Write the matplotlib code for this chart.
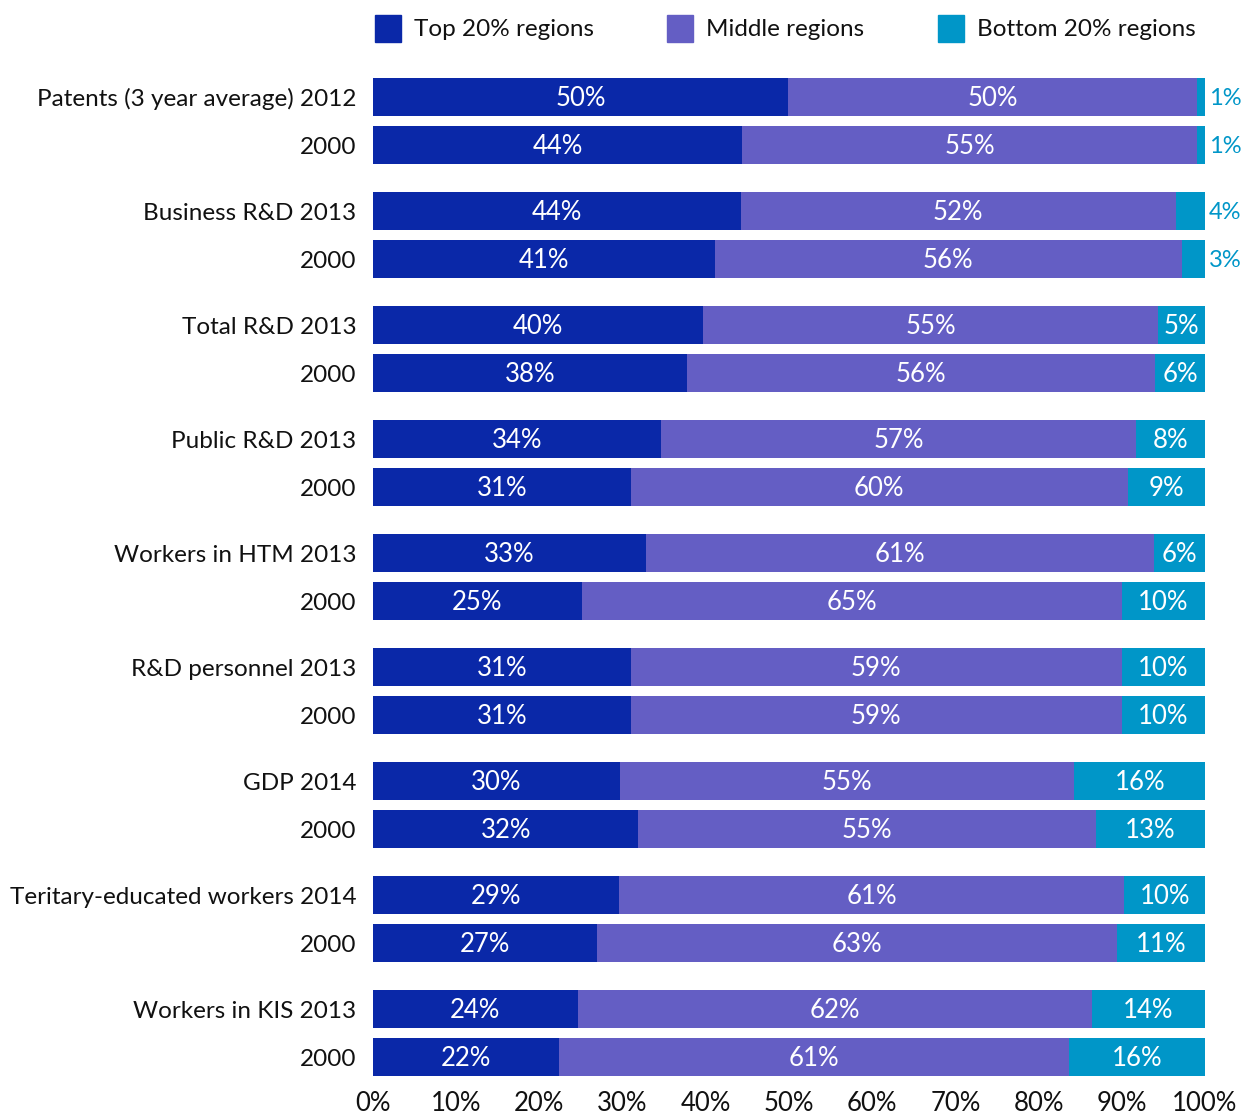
import matplotlib.pyplot as plt
from matplotlib.patches import Rectangle

# indicators, each with a recent year and 2000
indicators = ["Patents (3 year average) 2012", "Business R&D 2013", "Total R&D 2013",
              "Public R&D 2013", "Workers in HTM 2013", "R&D personnel 2013",
              "GDP 2014", "Teritary-educated workers 2014", "Workers in KIS 2013"]
base_year = "2000"

# shares (%): [recent, 2000] per indicator
top_share = [[49.9, 44.4], [44.2, 41.1], [39.7, 37.7], [34.6, 31.0], [32.8, 25.1],
             [31.0, 31.0], [29.7, 31.9], [29.6, 26.9], [24.6, 22.4]]
mid_share = [[49.1, 54.6], [52.3, 56.1], [54.7, 56.3], [57.1, 59.7], [61.1, 64.9],
             [59.0, 59.0], [54.6, 55.0], [60.7, 62.5], [61.8, 61.2]]

# printed labels
top_lbl = [[50, 44], [44, 41], [40, 38], [34, 31], [33, 25], [31, 31], [30, 32], [29, 27], [24, 22]]
mid_lbl = [[50, 55], [52, 56], [55, 56], [57, 60], [61, 65], [59, 59], [55, 55], [61, 63], [62, 61]]
bot_lbl = [[1, 1], [4, 3], [5, 6], [8, 9], [6, 10], [10, 10], [16, 13], [10, 11], [14, 16]]

legend_labels = ["Top 20% regions", "Middle regions", "Bottom 20% regions"]

c_top = "#0a28a8"
c_mid = "#645ec4"
c_bot = "#0096c8"
colors = [c_top, c_mid, c_bot]

plt.rcParams['font.family'] = ['Lato', 'DejaVu Sans']
W, H = 1242, 1115
fs_bar = 18.5
fs_lab = 17.5

fig = plt.figure(figsize=(W / 100, H / 100), dpi=100)
ax = fig.add_axes([373 / W, 1 - 1076 / H, 832 / W, 998 / H])

pitch = 114 / 48
h = 38 / 48
dy = 0.04  # small nudge so the numbers sit on the bar centre
ypos, ylabels = [], []
for g, name in enumerate(indicators):
    for s in range(2):
        y = g * pitch + s
        t = top_share[g][s]
        m = mid_share[g][s]
        b = 100 - t - m
        ax.barh(y, t, height=h, color=c_top, left=0)
        ax.barh(y, m, height=h, color=c_mid, left=t)
        ax.barh(y, b, height=h, color=c_bot, left=t + m)
        ax.text(t / 2, y + dy, f"{top_lbl[g][s]}%", color="white", ha="center", va="center",
                fontsize=fs_bar)
        ax.text(t + m / 2, y + dy, f"{mid_lbl[g][s]}%", color="white", ha="center", va="center",
                fontsize=fs_bar)
        if b < 4.5:
            # tiny segments: value goes just outside the bar
            ax.text(100.5, y + dy, f"{bot_lbl[g][s]}%", color=c_bot, ha="left", va="center",
                    fontsize=17, clip_on=False)
        else:
            ax.text(t + m + b / 2, y + dy, f"{bot_lbl[g][s]}%", color="white", ha="center",
                    va="center", fontsize=fs_bar)
        ypos.append(y)
        ylabels.append(name if s == 0 else base_year)

ax.set_xlim(0, 100)
ax.set_ylim(8 * pitch + 1 + h / 2, -h / 2)
ax.set_yticks(ypos)
ax.set_yticklabels(ylabels, fontsize=fs_lab, color="#111111")
ax.set_xticks(range(0, 101, 10))
ax.set_xticklabels([f"{v}%" for v in range(0, 101, 10)], fontsize=fs_bar, color="#111111")
ax.tick_params(length=0)
ax.tick_params(axis="y", pad=12)
ax.tick_params(axis="x", pad=10.5)
for sp in ax.spines.values():
    sp.set_visible(False)

# legend drawn by hand to match spacing
for x0, lbl, col in zip([375, 667, 938], legend_labels, colors):
    fig.patches.append(Rectangle((x0 / W, 1 - 42 / H), 26 / W, 27 / H,
                                 transform=fig.transFigure, color=col))
    fig.text((x0 + 39) / W, 1 - 30 / H, lbl, fontsize=fs_lab, color="#111111",
             ha="left", va="center")

fig.savefig("out.png", dpi=100)
